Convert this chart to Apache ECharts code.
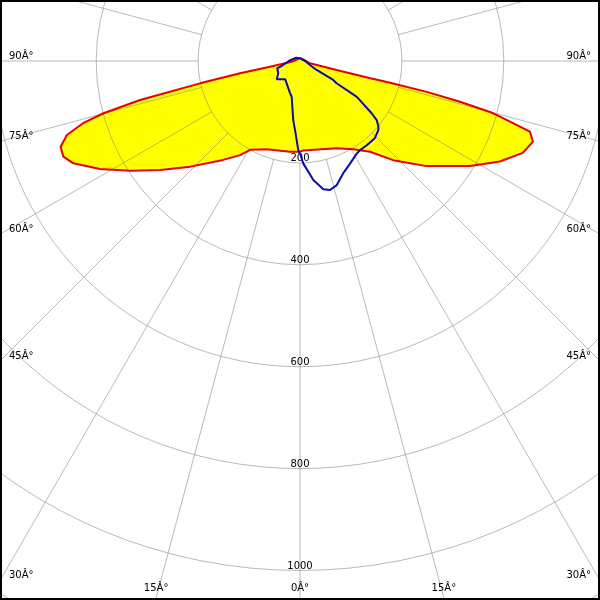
<!DOCTYPE html>
<html><head><meta charset="utf-8">
<script src="https://cdn.jsdelivr.net/npm/echarts@6/dist/echarts.min.js"></script>
<style>
html,body{margin:0;padding:0;background:#fff}
#wrap{position:relative;width:600px;height:600px}
#c{width:600px;height:600px}
#frame{position:absolute;left:0;top:0;width:600px;height:600px;box-sizing:border-box;border:2px solid #000;pointer-events:none}
</style>
</head><body><div id="wrap"><div id="c"></div><div id="frame"></div></div>
<script>
// radial ticks (cd) and angle ticks
const radiusTicks = [200, 400, 600, 800, 1000];
const radiusMax = 1200;
const angleTicks = [0, 15, 30, 45, 60, 75, 90];
const angleTickLabels = ['0Â°', '15Â°', '30Â°', '45Â°', '60Â°', '75Â°', '90Â°'];

// C0 plane (red/yellow), [gamma, cd], traversal order from nadir upward
const c0Left = [[0,178],[6.3,179],[20.7,185],[29.3,200],[32.5,219],[37.9,246],[46.1,299],[52.1,348],[57.1,397],[61.6,446],[65.7,488],[68,501],[70.3,499],[72.4,480],[74,443],[75.1,399],[76.3,323],[77.4,201],[78.4,120],[79.2,60],[82,25],[90,12],[180,6]];
const c0Right = [[1.9,176],[22.8,186],[31,202],[37.7,225],[43.2,267],[50.3,323],[58.3,392],[63.3,439],[67.6,473],[70.9,484],[72.9,472],[73.9,429],[74.9,392],[75.7,324],[76.3,256],[76.4,182],[76.2,140],[76.2,74],[77,20],[90,12],[180,6]];
// C90 plane (blue)
const c90Left = [[0,181],[1.1,175],[4.1,136],[6.5,117],[13.1,72],[17.2,66],[39.3,46],[51.9,58],[60.5,49],[72.2,47],[76.5,34],[90,22],[101,20],[130,10],[180,5]];
const c90Right = [[1.8,201],[6.4,235],[10.3,256],[13.1,260],[16.5,254],[21.1,236],[26,224],[31.6,213],[34,211],[38.4,211],[44.1,211],[48.6,205],[50,201],[52.4,190],[53.9,174],[57.7,132],[58.7,84],[60.3,75],[61.7,37],[68.2,21],[90,10],[180,5]];

const CX = 300, CY = 61, SCALE = 0.5095;
const R = radiusMax * SCALE;

function loop(left, right) {
  const pts = left.map(p => [p[1], p[0]]);
  right.slice().reverse().forEach(p => pts.push([p[1], 360 - p[0]]));
  pts.push(pts[0].slice());
  return pts;
}
const redData = loop(c0Left, c0Right);
const blueData = loop(c90Left, c90Right);

const FONT = '10px "DejaVu Sans"';
const graphics = [];
angleTicks.forEach((g, i) => {
  const sides = g === 0 ? [0] : [-1, 1];
  sides.forEach(s => {
    const rad = g * Math.PI / 180;
    let x, y, align;
    if (g === 0) { x = CX; y = 588; align = 'center'; }
    else {
      const yEdge = CY + 300 * Math.cos(rad) / Math.sin(rad);
      if (yEdge < 586) { x = s < 0 ? 9 : 591; align = s < 0 ? 'left' : 'right'; y = yEdge - 5; }
      else { x = CX + s * (598 - CY) * Math.tan(rad); align = 'center'; y = 588; }
    }
    graphics.push({type:'text', x:x, y:y, z:10, style:{text:angleTickLabels[i], font:FONT, fill:'#000', align:align, verticalAlign:'middle'}});
  });
});

const gridColor = 'rgba(130,130,130,0.55)';
const chart = echarts.init(document.getElementById('c'), null, {renderer:'canvas'});
chart.setOption({
  animation: false,
  backgroundColor: '#fff',
  polar: [
    {center:[CX, CY], radius: R},
    {center:[CX, CY], radius: [radiusTicks[0] * SCALE, 900]}
  ],
  angleAxis: [
    {polarIndex:0, type:'value', min:0, max:360, interval:15, startAngle:270, clockwise:true,
     axisLine:{show:false}, axisTick:{show:false}, axisLabel:{show:false}, splitLine:{show:false}},
    {polarIndex:1, type:'value', min:0, max:360, interval:15, startAngle:270, clockwise:true, z:3,
     axisLine:{show:false}, axisTick:{show:false}, axisLabel:{show:false},
     splitLine:{show:true, lineStyle:{color:gridColor, width:1}}}
  ],
  radiusAxis: [
    {polarIndex:0, type:'value', min:0, max:radiusMax, interval:200, z:3,
     axisLine:{show:false}, axisTick:{show:false},
     axisLabel:{show:true, margin:0, align:'center', verticalAlign:'bottom', lineHeight:9,
       fontFamily:'DejaVu Sans', fontSize:10, color:'#000',
       formatter: v => radiusTicks.indexOf(v) >= 0 ? String(v) : ''},
     splitLine:{show:true, lineStyle:{color:gridColor, width:1}}},
    {polarIndex:1, type:'value', min:0, max:radiusMax, show:false,
     axisLine:{show:false}, axisTick:{show:false}, axisLabel:{show:false}, splitLine:{show:false}}
  ],
  series: [
    {type:'line', coordinateSystem:'polar', polarIndex:0, data:redData, showSymbol:false, symbol:'none', smooth:false, z:1,
     lineStyle:{width:0, opacity:0}, areaStyle:{color:'#ffff00', opacity:1}},
    {type:'line', coordinateSystem:'polar', polarIndex:0, data:redData, showSymbol:false, symbol:'none', smooth:false, z:5,
     lineStyle:{color:'#e80000', width:2}},
    {type:'line', coordinateSystem:'polar', polarIndex:0, data:blueData, showSymbol:false, symbol:'none', smooth:false, z:6,
     lineStyle:{color:'#0c0ca8', width:2}}
  ],
  graphic: graphics
});
</script>
</body></html>
